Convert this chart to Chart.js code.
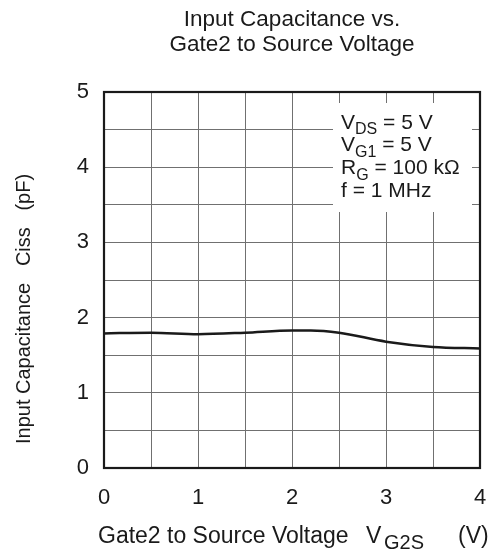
<!DOCTYPE html>
<html><head><meta charset="utf-8">
<script src="https://cdn.jsdelivr.net/npm/chart.js@4"></script>
<style>html,body{margin:0;padding:0;background:#fff;overflow:hidden}#wrap{width:494px;height:552px}canvas{display:block}</style>
</head><body><div id="wrap"><canvas id="c" width="494" height="552"></canvas></div>
<script>
const vg2s = [0, 0.5, 1, 1.5, 2, 2.2, 2.5, 3, 3.5, 4];
const ciss = [1.79, 1.80, 1.78, 1.80, 1.83, 1.83, 1.80, 1.68, 1.61, 1.59];
const xTickLabels = [0, 1, 2, 3, 4];
const yTickLabels = [0, 1, 2, 3, 4, 5];
const titleLines = ['Input Capacitance vs.', 'Gate2 to Source Voltage'];
const conditions = [
  [['V', 0], ['DS', 1], [' = 5 V', 0]],
  [['V', 0], ['G1', 1], [' = 5 V', 0]],
  [['R', 0], ['G', 1], [' = 100 k\u03A9', 0]],
  [['f = 1 MHz', 0]]
];
const xTitleParts = ['Gate2 to Source Voltage', 'V', 'G2S', '(V)'];
const yTitle = 'Input Capacitance   Ciss   (pF)';

const FONT = '"Liberation Sans", Arial, Helvetica, sans-serif';

function drawRuns(ctx, runs, x, y, size) {
  ctx.textAlign = 'left';
  ctx.textBaseline = 'alphabetic';
  for (const [t, sub] of runs) {
    const s = sub ? Math.round(size * 0.75) : size;
    ctx.font = s + 'px ' + FONT;
    ctx.fillText(t, x, y + (sub ? size * 0.28 : 0));
    x += ctx.measureText(t).width;
  }
}

const deco = {
  id: 'deco',
  beforeDatasetsDraw(chart) {
    const ctx = chart.ctx, a = chart.chartArea;
    ctx.save();
    ctx.fillStyle = '#fff';
    ctx.fillRect(a.left + 229, a.top + 11, 139, 109);
    ctx.restore();
  },
  afterDraw(chart) {
    const ctx = chart.ctx, a = chart.chartArea;
    ctx.save();
    ctx.strokeStyle = '#1a1a1a';
    ctx.lineWidth = 2.2;
    ctx.strokeRect(a.left, a.top, a.right - a.left, a.bottom - a.top);
    ctx.fillStyle = '#1a1a1a';
    ctx.font = '22.5px ' + FONT;
    ctx.textAlign = 'center';
    ctx.textBaseline = 'middle';
    const cx = (a.left + a.right) / 2;
    ctx.fillText(titleLines[0], cx, 20);
    ctx.fillText(titleLines[1], cx, 45);
    conditions.forEach((runs, i) => drawRuns(ctx, runs, a.left + 237, a.top + 36.5 + i * 22.8, 21));
    // x axis title
    ctx.textAlign = 'left';
    ctx.textBaseline = 'alphabetic';
    ctx.font = '23px ' + FONT;
    ctx.fillText(xTitleParts[0], 98, 543);
    ctx.fillText(xTitleParts[1], 366, 543);
    ctx.font = '20px ' + FONT;
    ctx.fillText(xTitleParts[2], 384, 549);
    ctx.font = '23px ' + FONT;
    ctx.fillText(xTitleParts[3], 458, 543);
    // y axis title
    ctx.translate(30, 444);
    ctx.rotate(-Math.PI / 2);
    ctx.font = '20px ' + FONT;
    ctx.fillText(yTitle, 0, 0);
    ctx.restore();
  }
};

new Chart(document.getElementById('c'), {
  type: 'line',
  data: { datasets: [{
    data: vg2s.map((x, i) => ({ x, y: ciss[i] })),
    borderColor: '#1a1a1a', borderWidth: 2.5, pointRadius: 0,
    cubicInterpolationMode: 'monotone', fill: false
  }] },
  options: {
    responsive: false, animation: false, devicePixelRatio: 1,
    layout: { padding: { left: 0, top: 92, right: 14, bottom: 0 } },
    plugins: { legend: { display: false }, tooltip: { enabled: false }, title: { display: false } },
    scales: {
      x: {
        type: 'linear', min: 0, max: 4,
        afterFit(s) { s.height = 84; s.paddingLeft = 0; s.paddingRight = 0; },
        grid: { color: '#707070', lineWidth: 1, drawTicks: false },
        border: { color: '#1a1a1a', width: 2 },
        ticks: {
          stepSize: 0.5, autoSkip: false, maxRotation: 0, padding: 17,
          color: '#1a1a1a', font: { family: FONT, size: 22 },
          callback: v => xTickLabels.includes(v) ? String(v) : ''
        }
      },
      y: {
        min: 0, max: 5,
        afterFit(s) { s.width = 104; s.paddingTop = 0; s.paddingBottom = 0; },
        grid: { color: '#707070', lineWidth: 1, drawTicks: false },
        border: { color: '#1a1a1a', width: 2 },
        ticks: {
          stepSize: 0.5, autoSkip: false, padding: 15,
          color: '#1a1a1a', font: { family: FONT, size: 22 },
          callback: v => yTickLabels.includes(v) ? String(v) : ''
        }
      }
    }
  },
  plugins: [deco]
});
</script></body></html>
